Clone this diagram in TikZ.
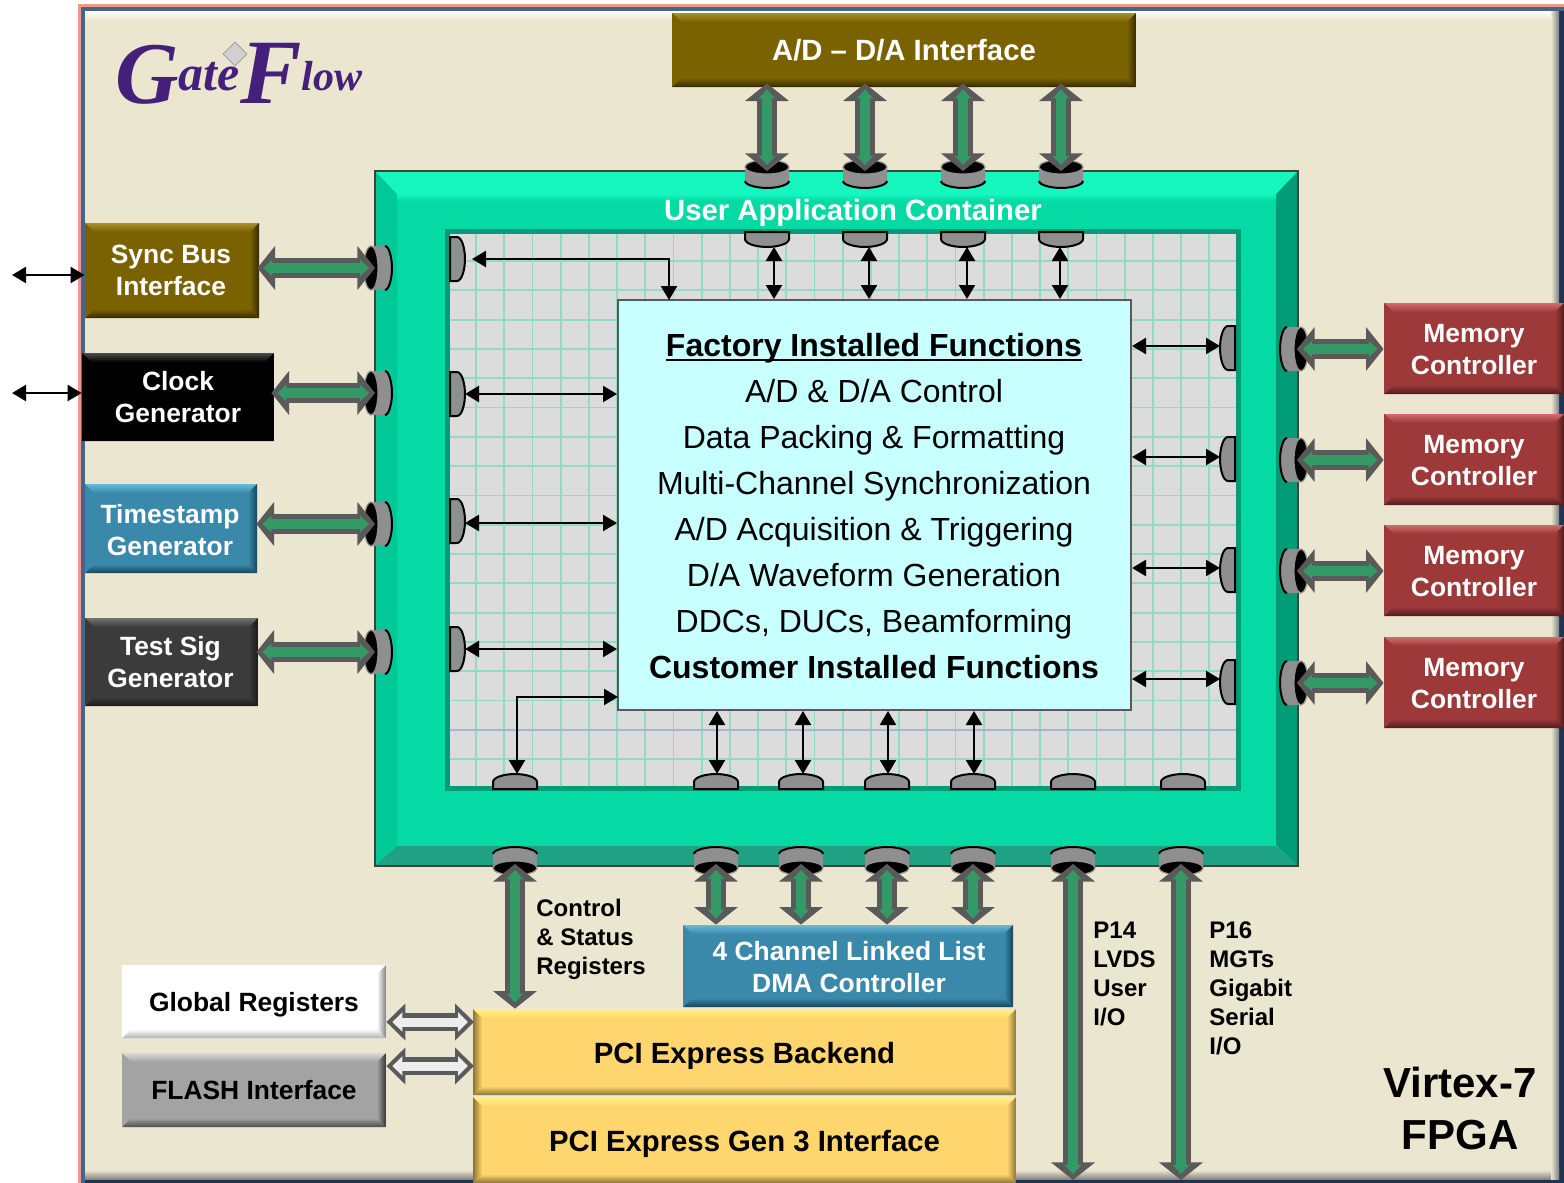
\documentclass[tikz,border=0pt]{standalone}
\usepackage{xcolor}
\usepackage{fontspec}
\setmainfont{Liberation Sans}
\newfontfamily\logofont{Liberation Serif}
\usepackage{tikz}
\usetikzlibrary{arrows.meta, calc, shapes.geometric}
\definecolor{paperbg}{HTML}{EBE6D0}
\definecolor{framepink}{HTML}{F0988C}
\definecolor{frameblue}{HTML}{44668C}
\definecolor{framenavy}{HTML}{1E3450}
\definecolor{panelgreen}{HTML}{05D9A4}
\definecolor{panellight}{HTML}{16F6BF}
\definecolor{panelleft}{HTML}{00C896}
\definecolor{panelright}{HTML}{009C78}
\definecolor{panelbottom}{HTML}{1FA283}
\definecolor{gridgreen}{HTML}{8EDCC2}
\definecolor{gridblue}{HTML}{A4B8D2}
\definecolor{gridgray}{HTML}{DCDCDC}
\definecolor{corefill}{HTML}{C8FFFF}
\definecolor{busgray}{HTML}{5A5A5A}
\definecolor{busgreen}{HTML}{339966}
\definecolor{portgray}{HTML}{8F8F8F}
\definecolor{logopurple}{HTML}{45207A}
\definecolor{olive1}{HTML}{7A6200}
\definecolor{olive2}{HTML}{A8912C}
\definecolor{olive3}{HTML}{362B00}
\definecolor{teal1}{HTML}{3A89AB}
\definecolor{teal2}{HTML}{66BAD8}
\definecolor{teal3}{HTML}{16465C}
\definecolor{red1}{HTML}{9E3939}
\definecolor{red2}{HTML}{D26A6A}
\definecolor{red3}{HTML}{4E1C1C}
\definecolor{gold1}{HTML}{FFD66E}
\definecolor{gold2}{HTML}{FFF08C}
\definecolor{gold3}{HTML}{8C7436}
\tikzset{
  fontA/.style={font=\fontsize{13.2}{16}\selectfont\bfseries},
  fontB/.style={font=\fontsize{12}{14.5}\selectfont\bfseries},
  fontC/.style={font=\fontsize{14.65}{18}\selectfont\bfseries},
  funcline/.style={font=\fontsize{16}{19}\selectfont,text height=13pt,text depth=1.5pt,inner sep=0pt},
  funcbold/.style={font=\fontsize{16}{19}\selectfont\bfseries,text height=13pt,text depth=1.5pt,inner sep=0pt},
  boxtext/.style={fontA,text=white,align=center,inner sep=0pt},
  textdown/.style={execute at begin node={\rule{0pt}{#1pt}}},
  bevelbox/.style n args={5}{rectangle,inner sep=0pt,align=center,fill=#1,
    path picture={
      \coordinate (bnw) at (path picture bounding box.north west);
      \coordinate (bne) at (path picture bounding box.north east);
      \coordinate (bsw) at (path picture bounding box.south west);
      \coordinate (bse) at (path picture bounding box.south east);
      \shade[top color=#2,bottom color=#1] (bnw) -- (bne) -- ($(bne)+(-4.5pt,-4.5pt)$) -- ($(bnw)+(4.5pt,-4.5pt)$) -- cycle;
      \shade[top color=#1,bottom color=#3] (bsw) -- (bse) -- ($(bse)+(-4.5pt,4.5pt)$) -- ($(bsw)+(4.5pt,4.5pt)$) -- cycle;
      \shade[left color=#1,right color=#4] (bne) -- (bse) -- ($(bse)+(-4.5pt,4.5pt)$) -- ($(bne)+(-4.5pt,-4.5pt)$) -- cycle;
      \shade[left color=#5,right color=#1] (bnw) -- (bsw) -- ($(bsw)+(4.5pt,4.5pt)$) -- ($(bnw)+(4.5pt,-4.5pt)$) -- cycle;
    }},
  boxsize/.style 2 args={minimum width=#1*0.5pt,minimum height=#2*0.5pt},
  olivebox/.style={bevelbox={olive1}{olive2}{olive3}{olive3}{olive1},text=white},
  tealbox/.style={bevelbox={teal1}{teal2}{teal3}{teal3}{teal1},text=white},
  redbox/.style={bevelbox={red1}{red2}{red3}{red3}{red1},boxsize={180}{91}},
  goldbox/.style={bevelbox={gold1}{gold2}{gold3}{gold3}{gold3},text=black,fontC,boxsize={543}{86},textdown=14.7},
  thinlink/.style={{Triangle[length=7pt,width=8pt]}-{Triangle[length=7pt,width=8pt]},line width=1.2pt,black},
  buslink/.style={{Triangle[length=8.8pt,width=21.5pt]}-{Triangle[length=8.8pt,width=21.5pt]},
    line width=10pt,busgray,shorten <=#1pt,shorten >=-2pt,
    postaction={draw=busgreen,line width=5pt,
      {Triangle[length=4.5pt,width=8pt]}-{Triangle[length=4.5pt,width=8pt]},
      shorten <=#1pt+3pt,shorten >=1pt}},
  buslink/.default=0,
  whitelink/.style={{Triangle[length=9.5pt,width=18pt]}-{Triangle[length=9.5pt,width=18pt]},
    line width=9pt,busgray,
    postaction={draw=white!93!black,line width=4.5pt,
      {Triangle[length=5pt,width=9.5pt]}-{Triangle[length=5pt,width=9.5pt]},
      shorten <=3pt,shorten >=3pt}},
  pics/tabport/.style={code={
    \draw[black,line width=1pt,fill=portgray] (-22,0) -- (-22,7) .. controls (-22,12) and (-10,15) .. (0,15)
      .. controls (10,15) and (22,12) .. (22,7) -- (22,0) -- cycle;
    \coordinate (-c) at (0,15);}},
  pics/cupport/.style={code={
    \fill[portgray] (-22,0) -- (-22,14) .. controls (-22,18) and (-10,21) .. (0,21)
      .. controls (10,21) and (22,18) .. (22,14) -- (22,0) -- cycle;
    \draw[black,line width=1pt] (-22,14) .. controls (-22,18) and (-10,21) .. (0,21)
      .. controls (10,21) and (22,18) .. (22,14);
    \draw[portgray,line width=0.6pt,fill=black] (0,0) ellipse (22 and 7);
    \coordinate (-c) at (0,0);}},
}
\begin{document}
\begin{tikzpicture}[x=0.5pt,y=-0.5pt]
  \useasboundingbox (0,0) rectangle (1564,1183);
  % outer frame
  \fill[framepink] (78,4) rectangle (1564,1183);
  \fill[frameblue] (80.5,6.5) rectangle (1564,1183);
  \fill[framenavy] (1559,11) rectangle (1564,1183);
  \fill[framenavy] (85,1179.5) rectangle (1564,1183);
  \fill[paperbg] (85,11) rectangle (1559,1179.5);
  \shade[top color=white,bottom color=paperbg] (85,11) rectangle (1553,20);
  \shade[top color=paperbg,bottom color=black!50] (85,1170) rectangle (1559,1179.5);
  \shade[left color=paperbg,right color=black!50] (1551,11) rectangle (1559,1179.5);

  % logo
  \node[text=logopurple,inner sep=0pt,anchor=base west] (nLogo) at (115,103)
    {\logofont\bfseries\itshape\fontsize{44}{44}\selectfont G\fontsize{25}{25}\selectfont\raisebox{6.5pt}{ate}\fontsize{46}{46}\selectfont F\fontsize{21}{21}\selectfont\raisebox{6.5pt}{low}};
  \node[diamond,fill=black!18,draw=black!40,minimum size=12pt,inner sep=0pt] (nStar) at (235,54) {};

  % container
  \fill[panelgreen] (375,171) rectangle (1298,866);
  \fill[panelleft] (375,171) -- (397,194) -- (397,845) -- (375,866) -- cycle;
  \fill[panelright] (1298,171) -- (1276,194) -- (1276,845) -- (1298,866) -- cycle;
  \fill[panelbottom] (375,866) -- (397,846) -- (1276,846) -- (1298,866) -- cycle;
  \fill[panellight] (375,171) -- (1298,171) -- (1276,194) -- (397,194) -- cycle;
  \shade[top color=panellight,bottom color=panelgreen] (397,194) rectangle (1276,201);
  \draw[black!75,line width=1pt] (375,171) rectangle (1298,866);
  \node[text=white,fontC] (nUser) at (853,213) {User Application Container};

  % grid panel
  \fill[gridgray] (447,231) rectangle (1238,788);
  \foreach \i in {0,...,27} {\draw[gridgreen,line width=0.9pt] ({476+28.2*\i},232) -- ({476+28.2*\i},788);}
  \foreach \i in {0,...,17} {\draw[gridgreen,line width=0.9pt] (448,{261+29.3*\i}) -- (1237,{261+29.3*\i});}
  \draw[gridblue,line width=1pt] (448,730) -- (1237,730);
  \draw[panelright,line width=2.5pt] (447,231) rectangle (1238,788);

  % factory functions
  \node[rectangle,fill=corefill,draw=black!65,line width=1pt,minimum width=256.5pt,minimum height=205pt] (nCore) at (874.5,505) {};
  \node[funcbold] (nF0) at (874,345) {Factory Installed Functions};
  \draw[black,line width=1pt] (nF0.south west) -- (nF0.south east);
  \node[funcline] (nF1) at (874,391) {A/D \& D/A Control};
  \node[funcline] (nF2) at (874,437) {Data Packing \& Formatting};
  \node[funcline] (nF3) at (874,483) {Multi-Channel Synchronization};
  \node[funcline] (nF4) at (874,529) {A/D Acquisition \& Triggering};
  \node[funcline] (nF5) at (874,575) {D/A Waveform Generation};
  \node[funcline] (nF6) at (874,621) {DDCs, DUCs, Beamforming};
  \node[funcbold] (nF7) at (874,667) {Customer Installed Functions};

  % boxes
  \node[olivebox,boxsize={464}{74},fontC] (nAD) at (904,50) {A/D -- D/A Interface};
  \node[olivebox,boxsize={174}{95}] (nSync) at (172,270.5) {};
  \node[boxtext] (nSyncT) at (171,270) {Sync Bus\\Interface};
  \node[bevelbox={black}{black!70}{black}{black}{black},text=white,boxsize={192}{88},fontA] (nClock) at (178,397) {Clock\\Generator};
  \node[tealbox,boxsize={172}{89}] (nTime) at (171,528.5) {};
  \node[boxtext] (nTimeT) at (170,530.5) {Timestamp\\Generator};
  \node[bevelbox={black!77}{black!55}{black!90}{black!90}{black!77},boxsize={173}{88}] (nTest) at (171.5,662) {};
  \node[boxtext] (nTestT) at (170.5,662) {Test Sig\\Generator};
  \node[redbox] (nMem1) at (1474,348.5) {};
  \node[redbox] (nMem2) at (1474,459.5) {};
  \node[redbox] (nMem3) at (1474,570.5) {};
  \node[redbox] (nMem4) at (1474,682.5) {};
  \node[boxtext] (nMem1T) at (1474,350) {Memory\\Controller};
  \node[boxtext] (nMem2T) at (1474,461) {Memory\\Controller};
  \node[boxtext] (nMem3T) at (1474,572) {Memory\\Controller};
  \node[boxtext] (nMem4T) at (1474,684) {Memory\\Controller};
  \node[tealbox,boxsize={330}{82}] (nDMA) at (848,966) {};
  \node[boxtext] (nDMAT) at (849,967) {4 Channel Linked List\\DMA Controller};
  \node[bevelbox={white}{white}{black!30}{black!50}{white},text=black,boxsize={264}{73},fontA,textdown=12.7] (nGlobal) at (254,1001.5) {Global Registers};
  \node[bevelbox={black!36}{black!15}{black!70}{black!80}{black!36},text=black,boxsize={264}{74},fontA] (nFlash) at (254,1090) {FLASH Interface};
  \node[goldbox] (nPciB) at (744.5,1052) {PCI Express Backend};
  \node[goldbox] (nPciG) at (744.5,1140) {PCI Express Gen 3 Interface};

  % labels
  \node[fontB,anchor=north west,align=left,inner sep=0pt] (nCsr) at (536,899) {Control\\\& Status\\Registers};
  \node[fontB,anchor=north west,align=left,inner sep=0pt] (nP14) at (1093,922) {P14\\LVDS\\User\\I/O};
  \node[fontB,anchor=north west,align=left,inner sep=0pt] (nP16) at (1209,921) {P16\\MGTs\\Gigabit\\Serial\\I/O};
  \node[font=\fontsize{21}{26}\selectfont\bfseries,align=center,inner sep=0pt] (nFpga) at (1460,1108) {Virtex-7\\FPGA};

  % inner ports
  \pic (pT1) at (767,232) {tabport};
  \pic (pT2) at (865,232) {tabport};
  \pic (pT3) at (963,232) {tabport};
  \pic (pT4) at (1061,232) {tabport};
  \pic[rotate=90] (pL1) at (450,259) {tabport};
  \pic[rotate=90] (pL2) at (450,394) {tabport};
  \pic[rotate=90] (pL3) at (450,521) {tabport};
  \pic[rotate=90] (pL4) at (450,649) {tabport};
  \pic[rotate=-90] (pR1) at (1235,348) {tabport};
  \pic[rotate=-90] (pR2) at (1235,459) {tabport};
  \pic[rotate=-90] (pR3) at (1235,570) {tabport};
  \pic[rotate=-90] (pR4) at (1235,682) {tabport};
  \pic[rotate=180] (pB1) at (515,789) {tabport};
  \pic[rotate=180] (pB2) at (716,789) {tabport};
  \pic[rotate=180] (pB3) at (801,789) {tabport};
  \pic[rotate=180] (pB4) at (887,789) {tabport};
  \pic[rotate=180] (pB5) at (973,789) {tabport};
  \pic[rotate=180] (pB6) at (1073,789) {tabport};
  \pic[rotate=180] (pB7) at (1183,789) {tabport};

  % outer ports
  \pic (qT1) at (767,167) {cupport};
  \pic (qT2) at (865,167) {cupport};
  \pic (qT3) at (963,167) {cupport};
  \pic (qT4) at (1061,167) {cupport};
  \pic[rotate=90] (qL1) at (371,268) {cupport};
  \pic[rotate=90] (qL2) at (371,393) {cupport};
  \pic[rotate=90] (qL3) at (371,524) {cupport};
  \pic[rotate=90] (qL4) at (371,652) {cupport};
  \pic[rotate=-90] (qR1) at (1301,349) {cupport};
  \pic[rotate=-90] (qR2) at (1301,460) {cupport};
  \pic[rotate=-90] (qR3) at (1301,571) {cupport};
  \pic[rotate=-90] (qR4) at (1301,683) {cupport};
  \pic[rotate=180] (qB1) at (515,868) {cupport};
  \pic[rotate=180] (qB2) at (716,868) {cupport};
  \pic[rotate=180] (qB3) at (801,868) {cupport};
  \pic[rotate=180] (qB4) at (887,868) {cupport};
  \pic[rotate=180] (qB5) at (973,868) {cupport};
  \pic[rotate=180] (qB6) at (1073,868) {cupport};
  \pic[rotate=180] (qB7) at (1181,868) {cupport};

  % bus arrows
  \draw[buslink=-2] (qT1-c |- nAD.south) -- (qT1-c);
  \draw[buslink=-2] (qT2-c |- nAD.south) -- (qT2-c);
  \draw[buslink=-2] (qT3-c |- nAD.south) -- (qT3-c);
  \draw[buslink=-2,xshift=-0.6pt] (qT4-c |- nAD.south) -- (qT4-c);
  \draw[buslink=-1] (nSync.east |- qL1-c) -- (qL1-c);
  \draw[buslink=-1.5] (nClock.east |- qL2-c) -- (qL2-c);
  \draw[buslink=-0.5] (nTime.east |- qL3-c) -- (qL3-c);
  \draw[buslink=-1] (nTest.east |- qL4-c) -- (qL4-c);
  \draw[buslink] (nMem1.west |- qR1-c) -- (qR1-c);
  \draw[buslink] (nMem2.west |- qR2-c) -- (qR2-c);
  \draw[buslink] (nMem3.west |- qR3-c) -- (qR3-c);
  \draw[buslink] (nMem4.west |- qR4-c) -- (qR4-c);
  \draw[buslink,xshift=0.7pt] (qB1-c |- nPciB.north) -- (qB1-c);
  \draw[buslink,xshift=0.7pt] (qB2-c |- nDMA.north) -- (qB2-c);
  \draw[buslink,xshift=0.7pt] (qB3-c |- nDMA.north) -- (qB3-c);
  \draw[buslink,xshift=0.7pt] (qB4-c |- nDMA.north) -- (qB4-c);
  \draw[buslink,xshift=0.4pt] (qB5-c |- nDMA.north) -- (qB5-c);
  \coordinate (cP14) at (1073,1180);
  \coordinate (cP16) at (1181,1180);
  \draw[buslink,xshift=0.5pt] (cP14) -- (qB6-c);
  \draw[buslink,xshift=0.3pt] (cP16) -- (qB7-c);
  \coordinate (cGlobal) at (474,1022);
  \coordinate (cFlash) at (474,1066);
  \draw[whitelink] (nGlobal.east |- cGlobal) -- (cGlobal);
  \draw[whitelink] (nFlash.east |- cFlash) -- (cFlash);

  % thin arrows
  \coordinate (cSyncOut) at (12,275);
  \coordinate (cClockOut) at (12,393);
  \draw[thinlink] (cSyncOut) -- (nSync.west |- cSyncOut);
  \draw[thinlink] (cClockOut) -- (nClock.west |- cClockOut);
  \draw[thinlink] (774,0 |- pT1-c) -- (774,0 |- nCore.north);
  \draw[thinlink] (869,0 |- pT2-c) -- (869,0 |- nCore.north);
  \draw[thinlink] (967,0 |- pT3-c) -- (967,0 |- nCore.north);
  \draw[thinlink] (1060,0 |- pT4-c) -- (1060,0 |- nCore.north);
  \coordinate (cElbowA) at (669,300);
  \coordinate (cElbowB) at (618,697);
  \coordinate (cElbowC) at (472,259);
  \draw[thinlink] (cElbowC) -| (cElbowA);
  \draw[thinlink] (pL2-c) -- (nCore.west |- pL2-c);
  \draw[thinlink] ($(pL3-c)+(0,2)$) -- (nCore.west |- 0,523);
  \draw[thinlink] (pL4-c) -- (nCore.west |- pL4-c);
  \draw[thinlink] (nCore.east |- 0,346) -- (pR1-c |- 0,346);
  \draw[thinlink] (nCore.east |- 0,457) -- (pR2-c |- 0,457);
  \draw[thinlink] (nCore.east |- 0,568) -- (pR3-c |- 0,568);
  \draw[thinlink] (nCore.east |- 0,679) -- (pR4-c |- 0,679);
  \draw[thinlink] (517,0 |- pB1-c) |- (cElbowB);
  \draw[thinlink] (717,0 |- pB2-c) -- (717,0 |- nCore.south);
  \draw[thinlink] (803,0 |- pB3-c) -- (803,0 |- nCore.south);
  \draw[thinlink] (888,0 |- pB4-c) -- (888,0 |- nCore.south);
  \draw[thinlink] (974,0 |- pB5-c) -- (974,0 |- nCore.south);
\end{tikzpicture}
\end{document}
